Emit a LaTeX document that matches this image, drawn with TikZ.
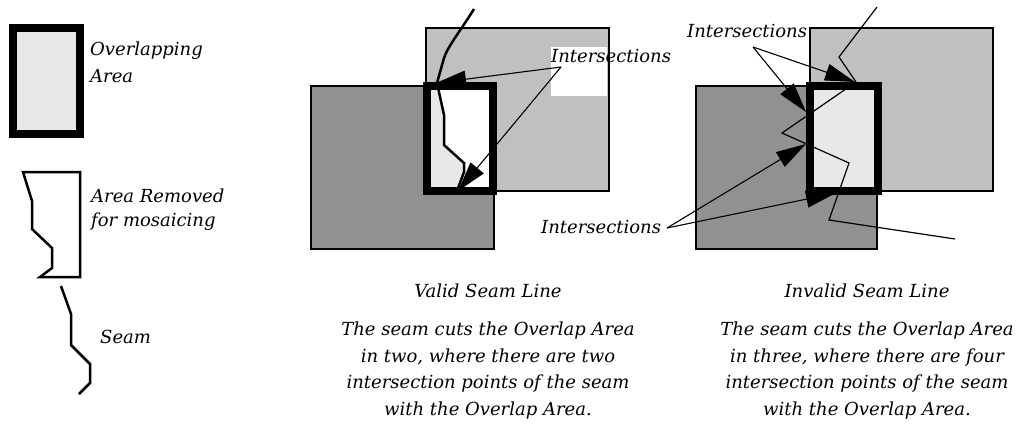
\documentclass[tikz,border=0pt]{standalone}
\usepackage{fontspec}
\setmainfont{DejaVu Serif}
\usepackage{tikz}
\usetikzlibrary{arrows.meta}
\definecolor{lightrect}{HTML}{C0C0C0}
\definecolor{darkrect}{HTML}{919191}
\definecolor{overlapfill}{HTML}{E8E8E8}

\tikzset{
  lbl/.style={font=\fontsize{18}{26.5}\selectfont\itshape, inner sep=0pt},
  capt/.style={lbl, align=center, anchor=north},
  thickbox/.style={line width=8pt, line join=miter},
  thinbox/.style={line width=2.5pt},
  seamline/.style={line width=2.5pt, line join=miter},
  pointer/.style={line width=1.1pt, -{Triangle[length=30pt,width=17pt]}},
}

\begin{document}
\begin{tikzpicture}[x=1pt,y=-1pt]
        \useasboundingbox (0,0) rectangle (1032,423);

        % legend
        \filldraw[fill=overlapfill, thickbox] (13,28) rectangle (80,134);
        \node[lbl, anchor=base west] (legOverlapA) at (90,55) {Overlapping};
        \node[lbl, anchor=base west] (legOverlapB) at (90,82) {Area};
        \draw[thinbox, line join=miter] (23,172) -- (80,172) -- (80,277) -- (40,277) -- (52,268) -- (52,248) -- (32,229) -- (32,201) -- cycle;
        \node[lbl, anchor=base west] (legRemovedA) at (91,202) {Area Removed};
        \node[lbl, anchor=base west] (legRemovedB) at (91,226) {for mosaicing};
        \draw[seamline] (61,286) -- (71,314) -- (71,345) -- (90,364) -- (90,383) -- (79,394);
        \node[lbl, anchor=base west] (legSeam) at (100,343) {Seam};

        % valid seam
        \fill[lightrect] (426,28) rectangle (609,191);
        \fill[white] (551,47) rectangle (607,96);
        \draw[thinbox] (426,28) rectangle (609,191);
        \filldraw[fill=darkrect, thinbox] (311,86) rectangle (494,249);
        \fill[white] (427,86) rectangle (493,191);
        \fill[overlapfill] (427,86) -- (437,86) -- (444,115) -- (444,145) -- (464,163) -- (464,172) -- (457,191) -- (427,191) -- cycle;
        \draw[thickbox] (427,86) rectangle (493,191);
        \draw[seamline] (474,9) .. controls (461,30) and (448,46) .. (444,58) -- (437,83) -- (444,115) -- (444,145) -- (464,163) -- (464,172) -- (457,191);
        \node[lbl, anchor=base west] (validInt) at (551,62) {Intersections};
        \coordinate (validFrom) at (561,67);
        \coordinate (validTop) at (436,83);
        \coordinate (validBot) at (458,191);
        \draw[pointer] (validFrom) -- (validTop);
        \draw[pointer] (validFrom) -- (validBot);
        \node[lbl, anchor=base] (validTitle) at (488,297) {Valid Seam Line};
        \node[capt] (validText) at (488,322) {The seam cuts the Overlap Area\\ in two, where there are two\\ intersection points of the seam\\ with the Overlap Area.};

        % invalid seam
        \filldraw[fill=lightrect, thinbox] (810,28) rectangle (993,191);
        \filldraw[fill=darkrect, thinbox] (696,86) rectangle (877,249);
        \filldraw[fill=overlapfill, thickbox] (810,86) rectangle (878,191);
        \draw[line width=1.2pt] (877,7) -- (839,57) -- (856,82) -- (782,133) -- (849,163) -- (829,220) -- (955,239);
        \node[lbl, anchor=base west] (invalidIntA) at (687,37) {Intersections};
        \node[lbl, anchor=base west] (invalidIntB) at (541,233) {Intersections};
        \coordinate (upFrom) at (753,47);
        \coordinate (lowFrom) at (667,228);
        \coordinate (cutTop) at (855,82);
        \coordinate (cutLeftA) at (806,112);
        \coordinate (cutLeftB) at (806,144);
        \coordinate (cutBot) at (836,193);
        \draw[pointer] (upFrom) -- (cutTop);
        \draw[pointer] (upFrom) -- (cutLeftA);
        \draw[pointer] (lowFrom) -- (cutLeftB);
        \draw[pointer] (lowFrom) -- (cutBot);
        \node[lbl, anchor=base] (invalidTitle) at (867,297) {Invalid Seam Line};
        \node[capt] (invalidText) at (867,322) {The seam cuts the Overlap Area\\ in three, where there are four\\ intersection points of the seam\\ with the Overlap Area.};
\end{tikzpicture}
\end{document}
